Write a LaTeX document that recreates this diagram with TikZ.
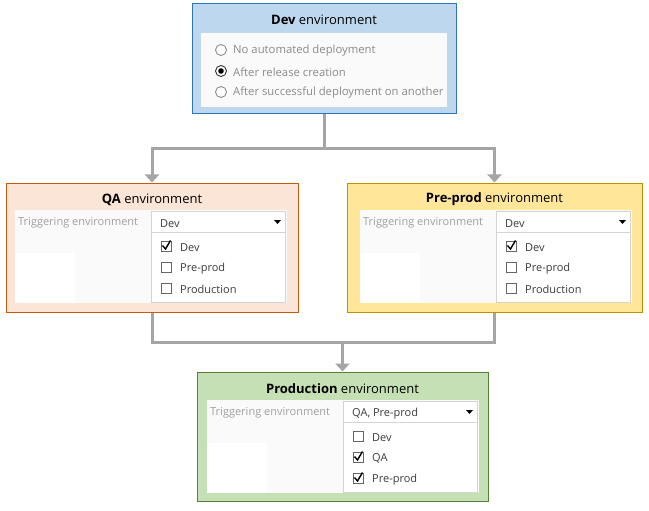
\documentclass[tikz,border=0pt]{standalone}
\usepackage{fontspec}
\setmainfont{Open Sans}
\usetikzlibrary{arrows.meta}
\definecolor{devfill}{HTML}{BDD7EE}
\definecolor{devline}{HTML}{2E75B6}
\definecolor{qafill}{HTML}{FBE5D6}
\definecolor{qaline}{HTML}{C55A11}
\definecolor{ppfill}{HTML}{FFE699}
\definecolor{ppline}{HTML}{BF9000}
\definecolor{prfill}{HTML}{C5E0B4}
\definecolor{prline}{HTML}{548235}
\definecolor{connc}{HTML}{A5A5A5}
\definecolor{panelbg}{HTML}{FAFAFA}
\definecolor{lblc}{HTML}{A0A0A0}
\definecolor{radc}{HTML}{8A8A8A}
\definecolor{itemc}{HTML}{3C3C3C}
\definecolor{ddline}{HTML}{D4D4D4}
\tikzset{
  envbox/.style={draw, line width=1pt, minimum height=129pt, inner sep=0pt},
  envtitle/.style={inner sep=0pt, font=\fontsize{13}{15}\selectfont, text=black},
  lbl/.style={anchor=west, inner sep=0pt, text=lblc, font=\fontsize{11}{13}\selectfont},
  item/.style={anchor=west, inner sep=0pt, text=itemc, font=\fontsize{11}{13}\selectfont},
  raditem/.style={anchor=west, inner sep=0pt, text=radc, font=\fontsize{11.3}{13}\selectfont},
  conn/.style={draw=connc, line width=3pt},
  tip/.style={-{Triangle[width=14pt,length=8pt]}},
  cbox/.style={draw=black!60, line width=0.7pt, fill=white},
  ckmark/.style={draw=black, line width=1.4pt},
}
\newcommand\trigpanel[2]{%
  \fill[panelbg] (0,0) rectangle (272,93);
  \fill[white] (0,43) rectangle (60,93);
  \node[lbl] (#1-lbl) at (3,13) {Triggering environment};
  \draw[ddline, fill=white, line width=0.8pt] (136,1) rectangle (270,92);
  \draw[ddline, line width=0.8pt] (136,22) -- (270,22);
  \node[item] (#1-val) at (145,14) {#2};
  \fill[black] (259,10) -- (266,10) -- (262.5,14) -- cycle;
}
\newcommand\chkrow[4]{%
  \draw[cbox] (146,#2-5) rectangle (156,#2+5);
  \ifnum#4=1 \draw[ckmark] (147.5,#2-0.5) -- (150.5,#2+3) -- (155.5,#2-5.5);\fi
  \node[item] (#1) at (165,#2+1.5) {#3};
}
\newcommand\radrow[4]{%
  \ifnum#4=1
    \draw[black!80, line width=0.9pt, fill=white] (20,#2) circle (5.5);
    \fill[black] (20,#2) circle (2.8);
  \else
    \draw[black!45, line width=0.9pt, fill=white] (20,#2) circle (5.5);
  \fi
  \node[raditem] (#1) at (32,#2+1) {#3};
}
\begin{document}
\begin{tikzpicture}[x=1pt,y=-1pt]
\useasboundingbox (0,0) rectangle (649,511);
\fill[white] (0,0) rectangle (649,511);
% environment boxes
\node[envbox, draw=devline, fill=devfill, minimum width=264pt, minimum height=110pt] (dev) at (324,59) {};
\node[envbox, draw=qaline, fill=qafill, minimum width=292pt] (qa) at (152,247.5) {};
\node[envbox, draw=ppline, fill=ppfill, minimum width=295pt] (pp) at (494.5,247.5) {};
\node[envbox, draw=prline, fill=prfill, minimum width=291pt] (prod) at (342.5,436.5) {};
% titles
\node[envtitle] (dev-t) at ([yshift=-16pt]dev.north) {\textbf{Dev} environment};
\node[envtitle] (qa-t) at ([yshift=-17pt]qa.north) {\textbf{QA} environment};
\node[envtitle] (pp-t) at ([yshift=-17pt]pp.north) {\textbf{Pre-prod} environment};
\node[envtitle] (prod-t) at ([yshift=-17pt]prod.north) {\textbf{Production} environment};
% dev panel
\begin{scope}[shift={(201,33)}]
  \fill[panelbg] (0,0) rectangle (246,74);
  \radrow{dev-r1}{17}{No automated deployment}{0}
  \radrow{dev-r2}{38}{After release creation}{1}
  \radrow{dev-r3}{59}{After successful deployment on another}{0}
\end{scope}
% QA panel
\begin{scope}[shift={(15,210)}]
  \trigpanel{qa}{Dev}
  \chkrow{qa-c1}{36}{Dev}{1}
  \chkrow{qa-c2}{57}{Pre-prod}{0}
  \chkrow{qa-c3}{78}{Production}{0}
\end{scope}
% Pre-prod panel
\begin{scope}[shift={(360,210)}]
  \trigpanel{pp}{Dev}
  \chkrow{pp-c1}{36}{Dev}{1}
  \chkrow{pp-c2}{57}{Pre-prod}{0}
  \chkrow{pp-c3}{78}{Production}{0}
\end{scope}
% Production panel
\begin{scope}[shift={(207,400)}]
  \trigpanel{prod}{QA, Pre-prod}
  \chkrow{prod-c1}{36}{Dev}{0}
  \chkrow{prod-c2}{57}{QA}{1}
  \chkrow{prod-c3}{78}{Pre-prod}{1}
\end{scope}
% connectors
\coordinate (j1) at (dev.south |- 0,149);
\coordinate (j2) at (prod.north |- 0,342);
\draw[conn] (dev.south) -- (j1);
\draw[conn, tip] (j1) -| (qa.north);
\draw[conn, tip] (j1) -| (pp.north);
\draw[conn] (qa.south) |- (j2);
\draw[conn] (pp.south) |- (j2);
\draw[conn, tip] (j2) -- (prod.north);
\end{tikzpicture}
\end{document}
